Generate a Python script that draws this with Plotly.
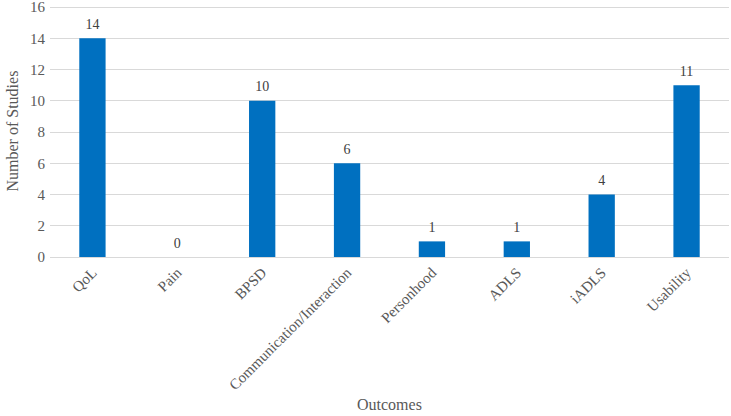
import plotly.graph_objects as go

categories = ["QoL", "Pain", "BPSD", "Communication/Interaction", "Personhood", "ADLS", "iADLS", "Usability"]
studies = [14, 0, 10, 6, 1, 1, 4, 11]
y_ticks = [0, 2, 4, 6, 8, 10, 12, 14, 16]

FONT = "Liberation Serif, Times New Roman, serif"
GRAY = "#595959"

fig = go.Figure()
fig.add_trace(go.Bar(
    x=categories, y=studies,
    marker=dict(color="#0070C0", line=dict(width=0)),
    hoverinfo="skip",
))
fig.add_trace(go.Scatter(
    x=categories, y=studies, mode="markers+text",
    marker=dict(size=8, opacity=0),
    text=[str(v) for v in studies], textposition="top center",
    textfont=dict(family=FONT, size=14, color="#404040"),
    cliponaxis=False, hoverinfo="skip",
))

fig.update_layout(
    width=731, height=416,
    margin=dict(l=50, r=2, t=2, b=159),
    plot_bgcolor="white", paper_bgcolor="white",
    bargap=0.69,
    showlegend=False,
    font=dict(family=FONT, color=GRAY),
    annotations=[
        dict(text="Outcomes", xref="paper", yref="paper", x=0.5, y=0, yshift=-147,
             xanchor="center", yanchor="middle", showarrow=False,
             font=dict(family=FONT, size=16, color=GRAY)),
        dict(text="Number of Studies", xref="paper", yref="paper", x=0, xshift=-38, y=0.5,
             yshift=-2, xanchor="center", yanchor="middle", textangle=-90, showarrow=False,
             font=dict(family=FONT, size=16, color=GRAY)),
    ],
)
fig.update_xaxes(
    tickangle=-45, tickfont=dict(family=FONT, size=15, color=GRAY),
    showgrid=False, showline=True, linecolor="#d9d9d9", linewidth=1,
    ticks="", automargin=False,
)
fig.update_yaxes(
    range=[0, 16.32], tickvals=y_ticks, tickfont=dict(family=FONT, size=15, color=GRAY),
    showgrid=True, gridcolor="#d9d9d9", gridwidth=1, zeroline=False,
    ticks="", automargin=False, showline=False, ticklabelstandoff=4,
    ticklabeloverflow="allow",
)

fig.write_html("out.html", config={"displayModeBar": False},
               post_script="document.body.style.margin='0';")
